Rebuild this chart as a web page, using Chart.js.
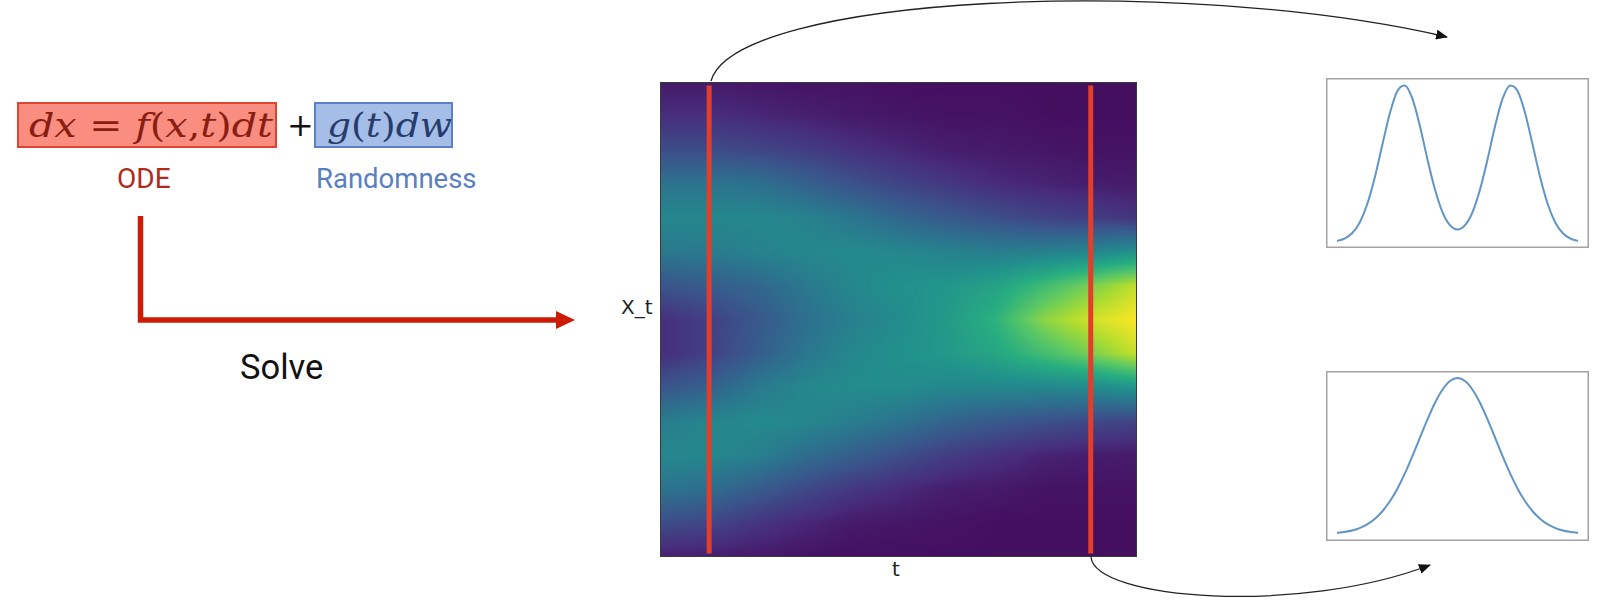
<!DOCTYPE html>
<html>
<head>
<meta charset="utf-8">
<script src="https://cdn.jsdelivr.net/npm/chart.js@4.4.1/dist/chart.umd.min.js"></script>
<style>
  html, body { margin: 0; padding: 0; background: #fff; }
  body { width: 1621px; height: 616px; position: relative; overflow: hidden; font-family: Roboto, "Noto Sans", sans-serif; }
  .abs { position: absolute; }
  .box { position: absolute; box-sizing: border-box; height: 46px; }
  .formula { position: absolute; white-space: nowrap; font-family: "DejaVu Serif", serif; font-size: 34px; line-height: 46px; top: 0; transform-origin: left center; }
  .formula i { font-style: italic; }
  .lbl { position: absolute; white-space: nowrap; line-height: 1; }
  canvas { position: absolute; }
  svg { position: absolute; left: 0; top: 0; }
</style>
</head>
<body>

<!-- formula -->
<div class="box" style="left:17px; top:102px; width:260px; background:#f98e80; border:2px solid #dc4532;"></div>
<div class="box" style="left:314px; top:102px; width:139px; background:#a5bee8; border:2px solid #5d80c2;"></div>
<div class="abs" style="left:0; top:102px; width:500px; height:46px;">
  <span id="fRed" class="formula" style="left:29px; color:#8a1d12;"><i>dx</i> = <i>f</i>(<i>x</i>,<i>t</i>)<i>dt</i></span>
  <span class="formula" style="left:287px; color:#111; font-size:32px;">+</span>
  <span id="fBlue" class="formula" style="left:327px; color:#273c6c;"><i>g</i>(<i>t</i>)<i>dw</i></span>
</div>
<div class="lbl" style="left:117px; top:165px; font-size:28px; color:#b02a1b;">ODE</div>
<div class="lbl" style="left:316px; top:165px; font-size:27.5px; color:#5a7fc0;">Randomness</div>
<div class="lbl" style="left:240px; top:350px; font-size:34.5px; color:#111;">Solve</div>

<!-- heatmap labels -->
<div class="lbl" style="left:621px; top:297px; font-family:'DejaVu Sans'; font-size:20px; color:#222;">X_t</div>
<div class="lbl" style="left:892px; top:559px; font-family:'DejaVu Sans'; font-size:20px; color:#222;">t</div>

<canvas id="heat" width="477" height="475" style="left:660px; top:82px;"></canvas>
<canvas id="early" width="263" height="170" style="left:1326px; top:78px;"></canvas>
<canvas id="late" width="263" height="170" style="left:1326px; top:371px;"></canvas>

<svg width="1621" height="616">
  <defs>
    <marker id="head" markerWidth="12" markerHeight="10" refX="11" refY="5" orient="auto" markerUnits="userSpaceOnUse">
      <path d="M0,0 L12,5 L0,10 z" fill="#111"/>
    </marker>
  </defs>
  <path d="M140.5,216 L140.5,320 L558,320" fill="none" stroke="#cc1c06" stroke-width="5.5"/>
  <path d="M556,311 L575,320 L556,329 z" fill="#cc1c06"/>
  <path d="M711,81 C735,-5 1180,-25 1447,37" fill="none" stroke="#222" stroke-width="1.3" marker-end="url(#head)"/>
  <path d="M1091,557 C1095,600 1300,615 1430,565" fill="none" stroke="#222" stroke-width="1.3" marker-end="url(#head)"/>
</svg>

<script>
// heatmap: density of X_t over time (rows top -> bottom)
const heatT = [0, 0.1, 0.2, 0.3, 0.4, 0.5, 0.6, 0.7, 0.8, 0.9, 1.0];
const heatX = [3.5, 3, 2.5, 2, 1.5, 1, 0.5, 0, -0.5, -1, -1.5, -2, -2.5, -3, -3.5];
const heatValues = [
  [0.07, 0.13, 0.23, 0.38, 0.46, 0.40, 0.26, 0.13, 0.13, 0.26, 0.42, 0.46, 0.38, 0.23, 0.09],
  [0.07, 0.13, 0.23, 0.38, 0.46, 0.41, 0.29, 0.19, 0.19, 0.31, 0.45, 0.46, 0.36, 0.21, 0.08],
  [0.06, 0.11, 0.21, 0.37, 0.46, 0.44, 0.33, 0.27, 0.29, 0.40, 0.47, 0.43, 0.29, 0.15, 0.07],
  [0.05, 0.09, 0.18, 0.31, 0.44, 0.46, 0.40, 0.36, 0.39, 0.46, 0.46, 0.36, 0.22, 0.11, 0.05],
  [0.05, 0.07, 0.14, 0.25, 0.39, 0.47, 0.46, 0.43, 0.46, 0.48, 0.42, 0.30, 0.16, 0.07, 0.04],
  [0.04, 0.06, 0.11, 0.20, 0.33, 0.46, 0.50, 0.48, 0.50, 0.48, 0.38, 0.24, 0.12, 0.06, 0.04],
  [0.04, 0.05, 0.08, 0.16, 0.28, 0.44, 0.52, 0.54, 0.53, 0.46, 0.32, 0.18, 0.08, 0.05, 0.04],
  [0.04, 0.05, 0.07, 0.12, 0.24, 0.42, 0.57, 0.64, 0.59, 0.46, 0.28, 0.14, 0.07, 0.04, 0.04],
  [0.04, 0.04, 0.06, 0.10, 0.20, 0.43, 0.68, 0.82, 0.69, 0.46, 0.25, 0.10, 0.05, 0.04, 0.04],
  [0.04, 0.04, 0.05, 0.08, 0.18, 0.45, 0.79, 0.93, 0.79, 0.47, 0.22, 0.08, 0.05, 0.04, 0.04],
  [0.04, 0.04, 0.05, 0.07, 0.15, 0.50, 0.91, 1.00, 0.92, 0.52, 0.20, 0.07, 0.05, 0.04, 0.04]
];
const snapshotT = [0.1, 0.9];
const snapshotSpan = [-3.45, 3.45];

// the two snapshot densities
const curveX = [-4, -3.75, -3.5, -3.25, -3, -2.75, -2.5, -2.25, -2, -1.75, -1.5, -1.25, -1, -0.75, -0.5, -0.25, 0,
                0.25, 0.5, 0.75, 1, 1.25, 1.5, 1.75, 2, 2.25, 2.5, 2.75, 3, 3.25, 3.5, 3.75, 4];
const earlyDensity = [0.008, 0.023, 0.057, 0.124, 0.240, 0.409, 0.615, 0.818, 0.961, 0.998, 0.915, 0.741, 0.530, 0.337, 0.192, 0.108, 0.080,
                      0.108, 0.192, 0.337, 0.530, 0.741, 0.915, 0.998, 0.961, 0.818, 0.615, 0.409, 0.240, 0.124, 0.057, 0.023, 0.008];
const lateDensity = [0.007, 0.013, 0.022, 0.038, 0.061, 0.096, 0.144, 0.208, 0.289, 0.387, 0.498, 0.616, 0.733, 0.840, 0.925, 0.981, 1.000,
                     0.981, 0.925, 0.840, 0.733, 0.616, 0.498, 0.387, 0.289, 0.208, 0.144, 0.096, 0.061, 0.038, 0.022, 0.013, 0.007];

// viridis colour map
const viridis = [[68,1,84],[71,45,123],[59,82,139],[44,114,142],[33,145,140],[40,174,128],[94,201,98],[173,220,48],[253,231,37]];
function viridisRGB(v) {
  v = Math.max(0, Math.min(1, v)) * (viridis.length - 1);
  const i = Math.min(viridis.length - 2, Math.floor(v)), f = v - i;
  return viridis[i].map((c, k) => c + (viridis[i + 1][k] - c) * f);
}
function locate(arr, v) {
  for (let i = 0; i < arr.length - 1; i++) {
    const a = arr[i], b = arr[i + 1];
    if ((v - a) * (v - b) <= 0) return i + (v - a) / (b - a);
  }
  return Math.abs(v - arr[0]) < Math.abs(v - arr[arr.length - 1]) ? 0 : arr.length - 1;
}

const heatmapPlugin = {
  id: 'heatmap',
  beforeDatasetsDraw(chart) {
    const { ctx, chartArea: a, scales } = chart;
    const w = Math.round(a.right - a.left), h = Math.round(a.bottom - a.top);
    const off = document.createElement('canvas');
    off.width = w; off.height = h;
    const octx = off.getContext('2d');
    const img = octx.createImageData(w, h);
    const colPos = [];
    for (let px = 0; px < w; px++) colPos.push(locate(heatT, scales.x.getValueForPixel(a.left + px + 0.5)));
    for (let py = 0; py < h; py++) {
      const r = locate(heatX, scales.y.getValueForPixel(a.top + py + 0.5));
      const r0 = Math.min(heatX.length - 2, Math.floor(r)), rf = r - r0;
      for (let px = 0; px < w; px++) {
        const c = colPos[px];
        const c0 = Math.min(heatT.length - 2, Math.floor(c)), cf = c - c0;
        const v = (heatValues[c0][r0] * (1 - rf) + heatValues[c0][r0 + 1] * rf) * (1 - cf) +
                  (heatValues[c0 + 1][r0] * (1 - rf) + heatValues[c0 + 1][r0 + 1] * rf) * cf;
        const rgb = viridisRGB(v);
        const k = (py * w + px) * 4;
        img.data[k] = rgb[0]; img.data[k + 1] = rgb[1]; img.data[k + 2] = rgb[2]; img.data[k + 3] = 255;
      }
    }
    octx.putImageData(img, 0, 0);
    ctx.drawImage(off, a.left, a.top);
  },
  afterDraw(chart) {
    const { ctx, chartArea: a } = chart;
    ctx.save();
    ctx.strokeStyle = '#3a3a3a';
    ctx.lineWidth = 1;
    ctx.strokeRect(a.left + 0.5, a.top + 0.5, a.right - a.left - 1, a.bottom - a.top - 1);
    ctx.restore();
  }
};

const frame = {
  id: 'frame',
  afterDraw(chart) {
    const { ctx, chartArea: a } = chart;
    ctx.save();
    ctx.strokeStyle = '#a3a3a3';
    ctx.lineWidth = 1.5;
    ctx.strokeRect(a.left + 0.75, a.top + 0.75, a.right - a.left - 1.5, a.bottom - a.top - 1.5);
    ctx.restore();
  }
};

new Chart(document.getElementById('heat'), {
  type: 'scatter',
  data: {
    datasets: snapshotT.map(t => ({
      data: snapshotSpan.map(y => ({ x: t, y: y })),
      showLine: true,
      borderColor: '#e43d2a',
      borderWidth: 5,
      borderCapStyle: 'butt',
      pointRadius: 0
    }))
  },
  options: {
    responsive: false,
    devicePixelRatio: 1,
    animation: false,
    layout: { padding: 0 },
    plugins: { legend: { display: false }, tooltip: { enabled: false } },
    scales: {
      x: { type: 'linear', min: -0.003, max: 0.997, display: false },
      y: { type: 'linear', min: -3.5, max: 3.5, display: false }
    }
  },
  plugins: [heatmapPlugin]
});

function densityChart(id, values, yMin, yMax) {
  return new Chart(document.getElementById(id), {
    type: 'scatter',
    data: {
      datasets: [{
        data: curveX.map((x, i) => ({ x: x, y: values[i] })),
        showLine: true,
        borderColor: '#6095c6',
        borderWidth: 2,
        pointRadius: 0,
        cubicInterpolationMode: 'monotone'
      }]
    },
    options: {
      responsive: false,
      devicePixelRatio: 1,
      animation: false,
      layout: { padding: 0 },
      plugins: { legend: { display: false }, tooltip: { enabled: false } },
      scales: {
        x: { type: 'linear', min: -4.365, max: 4.365, display: false },
        y: { type: 'linear', min: yMin, max: yMax, display: false }
      }
    },
    plugins: [frame]
  });
}
densityChart('early', earlyDensity, -0.037, 1.045);
densityChart('late', lateDensity, -0.045, 1.045);

// stretch the formula parts to the widths in the slide
function fit(id, width) {
  const el = document.getElementById(id);
  const w = el.getBoundingClientRect().width;
  el.style.transform = 'scaleX(' + (width / w) + ')';
}
fit('fRed', 244);
fit('fBlue', 125);
</script>
</body>
</html>
